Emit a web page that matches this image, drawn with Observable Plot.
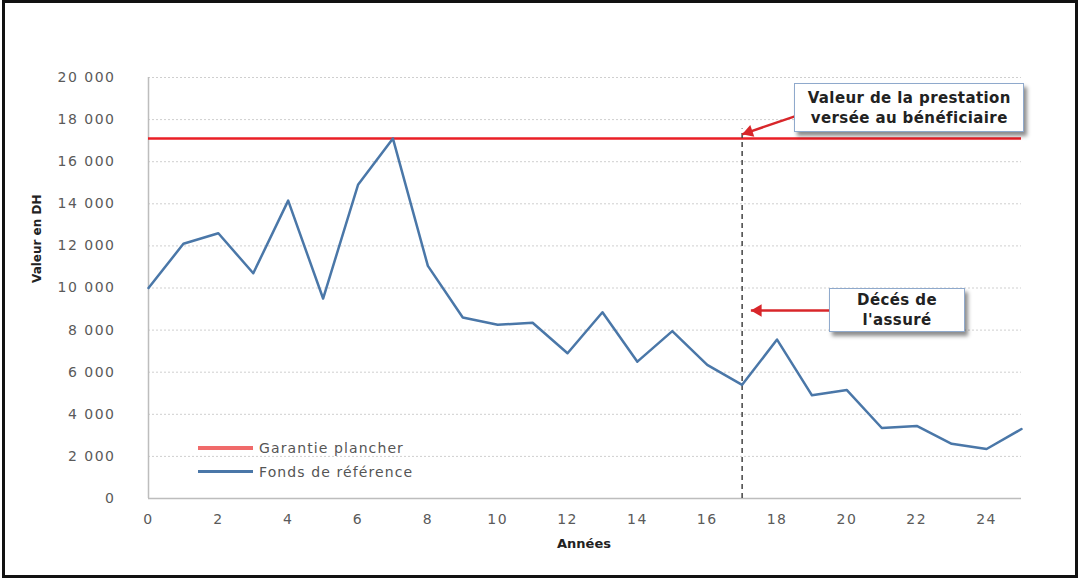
<!DOCTYPE html>
<html>
<head>
<meta charset="utf-8">
<script src="https://cdn.jsdelivr.net/npm/d3@7"></script>
<script src="https://cdn.jsdelivr.net/npm/@observablehq/plot@0.6"></script>
<style>
  body { margin: 0; background: #fff; }
  #wrap { position: relative; width: 1080px; height: 579px; overflow: hidden; font-family: "DejaVu Sans", sans-serif; }
  #frame { position: absolute; left: 2px; top: 0; width: 1076px; height: 578px; border: 3.5px solid #111; box-sizing: border-box; pointer-events: none; }
  .callout { position: absolute; background: #fff; border: 1.5px solid #8fa9cc; box-shadow: 3px 4px 4px rgba(0,0,0,0.45);
    box-sizing: border-box; display: flex; align-items: center; justify-content: center; text-align: center;
    font-weight: bold; font-size: 15px; letter-spacing: 0.4px; line-height: 20px; color: #222; }
  .legend { position: absolute; left: 198px; font-size: 14px; color: #555; letter-spacing: 1.1px; }
  .legend div { display: flex; align-items: center; height: 24px; }
  .legend span.sw { display: inline-block; width: 55px; margin-right: 6px; }
  svg g[aria-label$="tick label"] { letter-spacing: 1.5px; }
</style>
</head>
<body>
<div id="wrap"></div>
<script>
// Valeur du fonds de référence, année par année
const annees = [0, 1, 2, 3, 4, 5, 6, 7, 8, 9, 10, 11, 12, 13, 14, 15, 16, 17, 18, 19, 20, 21, 22, 23, 24, 25];
const fonds = [10000, 12100, 12600, 10700, 14150, 9500, 14900, 17100, 11050, 8600, 8250, 8350, 6900, 8850,
               6500, 7950, 6350, 5400, 7550, 4900, 5150, 3350, 3450, 2600, 2350, 3300];
const garantie = 17100;   // garantie plancher
const deces = 17;         // année du décès de l'assuré

const yTicks = [0, 2000, 4000, 6000, 8000, 10000, 12000, 14000, 16000, 18000, 20000];
const xTicks = [0, 2, 4, 6, 8, 10, 12, 14, 16, 18, 20, 22, 24];

const legende = [
  {label: "Garantie plancher", color: "#f06a6a", width: 4},
  {label: "Fonds de référence", color: "#4a77a8", width: 3}
];

// Bulles d'annotation : cadre (années / DH) et flèche
const bulles = [
  {lignes: ["Valeur de la prestation", "versée au bénéficiaire"],
   x1: 18.5, x2: 25.1, y1: 19700, y2: 17380,
   de: [18.55, 18180], vers: [17.0, 17300]},
  {lignes: ["Décés de", "l'assuré"],
   x1: 19.5, x2: 23.4, y1: 9980, y2: 7890,
   de: [19.5, 8930], vers: [17.25, 8930]}
];

const W = 1080, H = 579, mL = 148, mR = 59, mT = 77, mB = 81;
const xDomain = [0, 25], yDomain = [0, 20000];
const fx = d3.scaleLinear(xDomain, [mL, W - mR]);
const fy = d3.scaleLinear(yDomain, [H - mB, mT]);

const data = annees.map((a, i) => ({annee: a, valeur: fonds[i]}));
const fmt = d => d3.format(",")(d).replace(/,/g, "\u00a0");

// Flèches : trait + pointe triangulaire orientée dans le sens du trait
const tipR = 4.6;
const tipDist = 2 * Math.sqrt((Math.PI * tipR * tipR) / (3 * Math.sqrt(3)));
const flecheMarks = bulles.flatMap(b => {
  const p1 = [fx(b.de[0]), fy(b.de[1])], p2 = [fx(b.vers[0]), fy(b.vers[1])];
  const len = Math.hypot(p2[0] - p1[0], p2[1] - p1[1]);
  const ux = (p2[0] - p1[0]) / len, uy = (p2[1] - p1[1]) / len;
  const angle = Math.atan2(ux, -uy) * 180 / Math.PI;
  return [
    Plot.link([b], {x1: d => d.de[0], y1: d => d.de[1], x2: d => d.vers[0], y2: d => d.vers[1],
      stroke: "#d8262a", strokeWidth: 2.5, ariaLabel: "fleche"}),
    Plot.dot([b], {x: d => d.vers[0], y: d => d.vers[1], symbol: "triangle", r: tipR, rotate: angle,
      dx: -ux * tipDist, dy: -uy * tipDist, fill: "#d8262a", stroke: "none", ariaLabel: "fleche"})
  ];
});

const chart = Plot.plot({
  width: W, height: H,
  marginLeft: mL, marginRight: mR, marginTop: mT, marginBottom: mB,
  x: {domain: xDomain},
  y: {domain: yDomain},
  style: {fontFamily: "DejaVu Sans, sans-serif", background: "transparent", color: "#5a5a5a", overflow: "visible"},
  marks: [
    Plot.ruleY(yTicks.filter(d => d > 0), {stroke: "#cfcfcf", strokeDasharray: "2,2", strokeWidth: 1}),
    Plot.ruleX([0], {stroke: "#bdbdbd", strokeWidth: 1.5}),
    Plot.ruleY([0], {stroke: "#bdbdbd", strokeWidth: 1.5}),
    Plot.axisY({ticks: yTicks, tickSize: 0, tickPadding: 33, tickFormat: fmt, fontSize: 14, label: null}),
    Plot.axisX({ticks: xTicks, tickSize: 0, tickPadding: 16, fontSize: 14, label: null}),
    Plot.text(["Valeur en DH"], {frameAnchor: "left", dx: -111, dy: -5, rotate: -90, fontSize: 12,
      fontWeight: "bold", fill: "#222"}),
    Plot.text(["Années"], {frameAnchor: "bottom", dx: -1, dy: 49, fontSize: 13, fontWeight: "bold", fill: "#222"}),
    Plot.ruleY([garantie], {x1: xDomain[0], x2: xDomain[1], stroke: "#ea1f26", strokeWidth: 2.5}),
    Plot.ruleX([deces], {y1: 0, y2: 17550, stroke: "#444", strokeDasharray: "5,4", strokeWidth: 1.5}),
    Plot.line(data, {x: "annee", y: "valeur", stroke: "#4a77a8", strokeWidth: 2.5}),
    ...flecheMarks
  ]
});

const wrap = document.getElementById("wrap");
chart.style.position = "absolute";
chart.style.left = "0";
chart.style.top = "0";
wrap.appendChild(chart);
chart.querySelectorAll('g[aria-label="fleche"]').forEach(g => {
  g.style.filter = "drop-shadow(2px 3px 2px rgba(0,0,0,0.35))";
});

// Cadres des bulles placés via les échelles du graphique
const sx = chart.scale("x"), sy = chart.scale("y");
bulles.forEach(b => {
  const div = document.createElement("div");
  div.className = "callout";
  const left = sx.apply(b.x1), right = sx.apply(b.x2);
  const top = sy.apply(b.y1), bottom = sy.apply(b.y2);
  Object.assign(div.style, {left: left + "px", top: top + "px", width: (right - left) + "px", height: (bottom - top) + "px"});
  div.innerHTML = b.lignes.join("<br>");
  wrap.appendChild(div);
});

// Légende
const leg = document.createElement("div");
leg.className = "legend";
leg.style.top = (sy.apply(2000) - 20) + "px";
legende.forEach(l => {
  const row = document.createElement("div");
  const sw = document.createElement("span");
  sw.className = "sw";
  sw.style.height = l.width + "px";
  sw.style.background = l.color;
  row.appendChild(sw);
  row.appendChild(document.createTextNode(l.label));
  leg.appendChild(row);
});
wrap.appendChild(leg);

const frame = document.createElement("div");
frame.id = "frame";
wrap.appendChild(frame);
</script>
</body>
</html>
